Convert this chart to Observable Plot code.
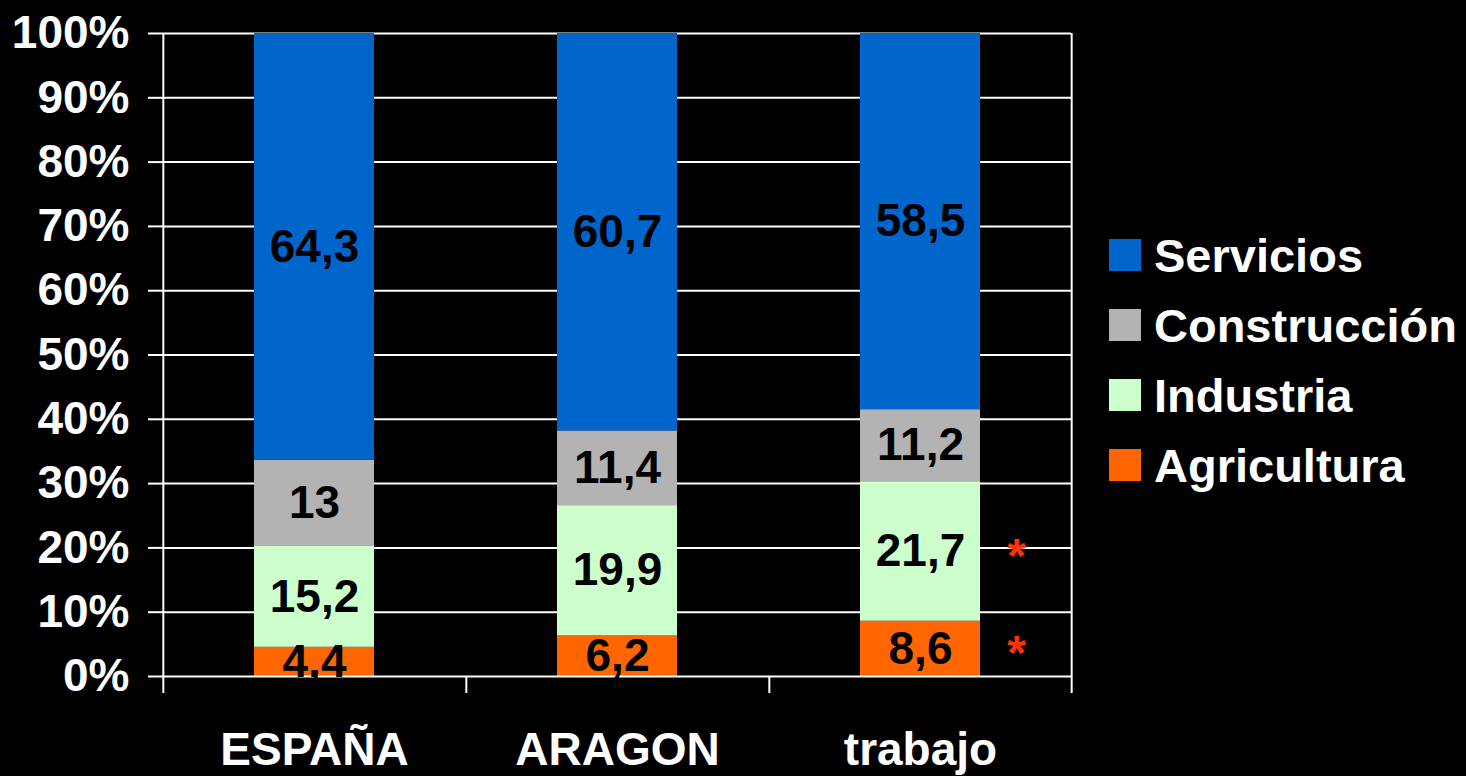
<!DOCTYPE html>
<html><head><meta charset="utf-8">
<script src="https://cdn.jsdelivr.net/npm/d3@7"></script>
<script src="https://cdn.jsdelivr.net/npm/@observablehq/plot@0.6"></script>
<style>
html,body{margin:0;padding:0;background:#000;}
#wrap{position:relative;width:1466px;height:776px;overflow:hidden;}
#legend{position:absolute;left:1109px;top:239px;font:bold 47px "Liberation Sans",Arial,Helvetica,sans-serif;color:#fff;}
.item{display:flex;align-items:center;height:32px;margin-bottom:38px;white-space:nowrap;}
.sw{width:32px;height:32px;margin-right:13px;flex:none;}
</style></head><body><div id="wrap"></div>
<script>
// ---- data ----
const categories = ["ESPAÑA", "ARAGON", "trabajo"];
const sectors = ["Agricultura", "Industria", "Construcción", "Servicios"]; // bottom -> top
const agricultura = [4.4, 6.2, 8.6];
const industria = [15.2, 19.9, 21.7];
const construccion = [13, 11.4, 11.2];
const servicios = [64.3, 60.7, 58.5];
const sectorColors = ["#FF6600", "#CCFFCC", "#B3B3B3", "#0066CC"];
const yTicks = [0, 0.1, 0.2, 0.3, 0.4, 0.5, 0.6, 0.7, 0.8, 0.9, 1];
const flaggedCategory = "trabajo";
const flaggedSectors = ["Industria", "Agricultura"];
const legendOrder = ["Servicios", "Construcción", "Industria", "Agricultura"];

// ---- build table ----
const seriesBySector = {
  "Agricultura": agricultura,
  "Industria": industria,
  "Construcción": construccion,
  "Servicios": servicios
};
const rows = [];
categories.forEach((c, i) => {
  sectors.forEach(s => rows.push({category: c, sector: s, value: seriesBySector[s][i]}));
});

const FONT = '"Liberation Sans", Arial, Helvetica, sans-serif';
const W = 1466, H = 776, mL = 164, mR = 395, mT = 33, mB = 100;
const step = (W - mL - mR) / categories.length;
const stackOpts = {x: "category", y: "value", z: "sector", order: sectors, offset: "normalize"};

const chart = Plot.plot({
  width: W, height: H,
  marginLeft: mL, marginRight: mR, marginTop: mT, marginBottom: mB,
  style: {background: "#000", color: "#fff", fontFamily: FONT, fontSize: "46px", fontWeight: "bold"},
  x: {domain: categories, paddingInner: 0.603, paddingOuter: 0.298, label: null},
  y: {domain: [0, 1], label: null},
  color: {domain: sectors, range: sectorColors},
  marks: [
    Plot.ruleY(yTicks.filter(d => d > 0), {stroke: "#fff", strokeWidth: 2}),
    Plot.barY(rows, Plot.stackY({...stackOpts, fill: "sector"})),
    Plot.ruleY([0], {stroke: "#fff", strokeWidth: 2}),
    Plot.ruleX([categories[0]], {x: d => d, dx: -step / 2, insetBottom: -17, stroke: "#fff", strokeWidth: 2}),
    Plot.ruleX([categories[categories.length - 1]], {x: d => d, dx: step / 2, insetBottom: -17, stroke: "#fff", strokeWidth: 2}),
    Plot.ruleX(categories.slice(1), {x: d => d, dx: -step / 2, y1: 0, y2: 0, insetBottom: -17, stroke: "#fff", strokeWidth: 2}),
    Plot.axisY({ticks: yTicks, tickFormat: d3.format(".0%"), tickSize: 16, tickPadding: 19,
      stroke: "#fff", strokeWidth: 2, fill: "#fff", fontSize: 46, fontWeight: "bold", label: null}),
    Plot.axisX({tickSize: 0, tickPadding: 56, fill: "#fff", fontSize: 46, fontWeight: "bold", label: null}),
    Plot.text(rows, Plot.stackY({...stackOpts,
      text: d => String(d.value).replace(".", ","),
      fill: "#000", fontSize: 46, fontWeight: "bold"})),
    Plot.text(rows, Plot.stackY({...stackOpts,
      text: d => (d.category === flaggedCategory && flaggedSectors.includes(d.sector)) ? "*" : null,
      dx: 96, dy: 5, fill: "#FF3300", fontSize: 48, fontWeight: "bold"}))
  ]
});

const wrap = document.getElementById("wrap");
wrap.appendChild(chart);

const legend = document.createElement("div");
legend.id = "legend";
legendOrder.forEach(s => {
  const item = document.createElement("div");
  item.className = "item";
  const sw = document.createElement("div");
  sw.className = "sw";
  sw.style.background = sectorColors[sectors.indexOf(s)];
  const label = document.createElement("span");
  label.textContent = s;
  item.appendChild(sw);
  item.appendChild(label);
  legend.appendChild(item);
});
wrap.appendChild(legend);
</script>
</body></html>
